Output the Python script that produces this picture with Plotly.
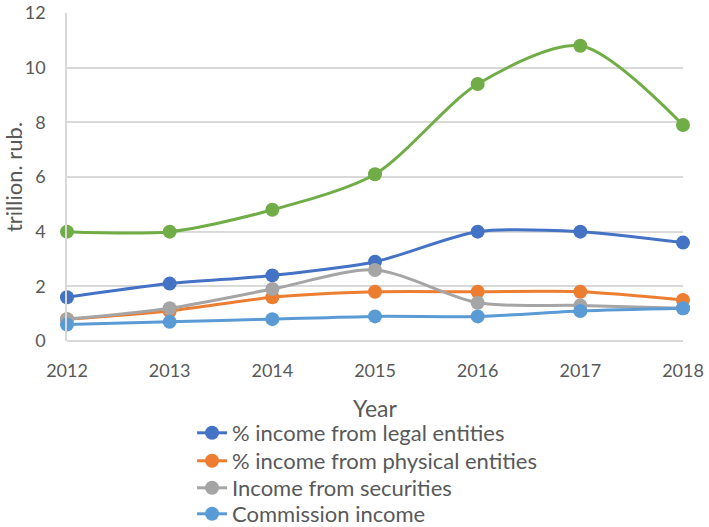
import plotly.graph_objects as go

years = [2012, 2013, 2014, 2015, 2016, 2017, 2018]
total = [4.0, 4.0, 4.8, 6.1, 9.4, 10.8, 7.9]
legal = [1.6, 2.1, 2.4, 2.9, 4.0, 4.0, 3.6]
physical = [0.8, 1.1, 1.6, 1.8, 1.8, 1.8, 1.5]
securities = [0.8, 1.2, 1.9, 2.6, 1.4, 1.3, 1.2]
commission = [0.6, 0.7, 0.8, 0.9, 0.9, 1.1, 1.2]

series = [
    ("Total", total, "#70AD47", None),
    ("% income from legal entities", legal, "#4472C4", "legend"),
    ("% income from physical entities", physical, "#ED7D31", "legend2"),
    ("Income from securities", securities, "#A5A5A5", "legend3"),
    ("Commission income", commission, "#5B9BD5", "legend4"),
]

font_family = "Lato, 'Open Sans', sans-serif"
fig = go.Figure()
for name, vals, color, leg in series:
    fig.add_trace(go.Scatter(
        x=years, y=vals, name=name, mode="lines+markers",
        line=dict(color=color, width=3, shape="spline", smoothing=0.8),
        marker=dict(color=color, size=14),
        showlegend=leg is not None, legend=leg or "legend", cliponaxis=False,
    ))

plot_bottom, plot_h = 341, 328
legend_rows = {"legend": 433, "legend2": 461, "legend3": 488, "legend4": 514}
legend_layouts = {
    k: dict(
        x=0.203, y=(plot_bottom - py) / plot_h, xanchor="left", yanchor="middle",
        font=dict(size=22, color="#595959"), bgcolor="rgba(0,0,0,0)",
        itemwidth=30, borderwidth=0,
    )
    for k, py in legend_rows.items()
}

fig.update_layout(
    width=709, height=527,
    margin=dict(l=67, r=26, t=13, b=186, autoexpand=False),
    paper_bgcolor="white", plot_bgcolor="white",
    font=dict(family=font_family, color="#595959", size=18),
    xaxis=dict(
        range=[2012, 2018], tickvals=years, ticktext=[str(y) for y in years],
        showgrid=False, zeroline=False, showline=False, ticks="",
        tickfont=dict(size=18), ticklabelstandoff=17,
        title=dict(text="Year", font=dict(size=23), standoff=20),
    ),
    yaxis=dict(
        range=[0, 12], dtick=2, showgrid=True, gridcolor="#D9D9D9", gridwidth=1.5,
        zeroline=True, zerolinecolor="#D9D9D9", zerolinewidth=1.5,
        showline=True, linecolor="#D9D9D9", linewidth=1.5, ticks="",
        tickfont=dict(size=18), ticklabelstandoff=16,
        title=dict(text="trillion. rub.", font=dict(size=22), standoff=4),
    ),
    **legend_layouts,
)

fig.write_html("out.html")
